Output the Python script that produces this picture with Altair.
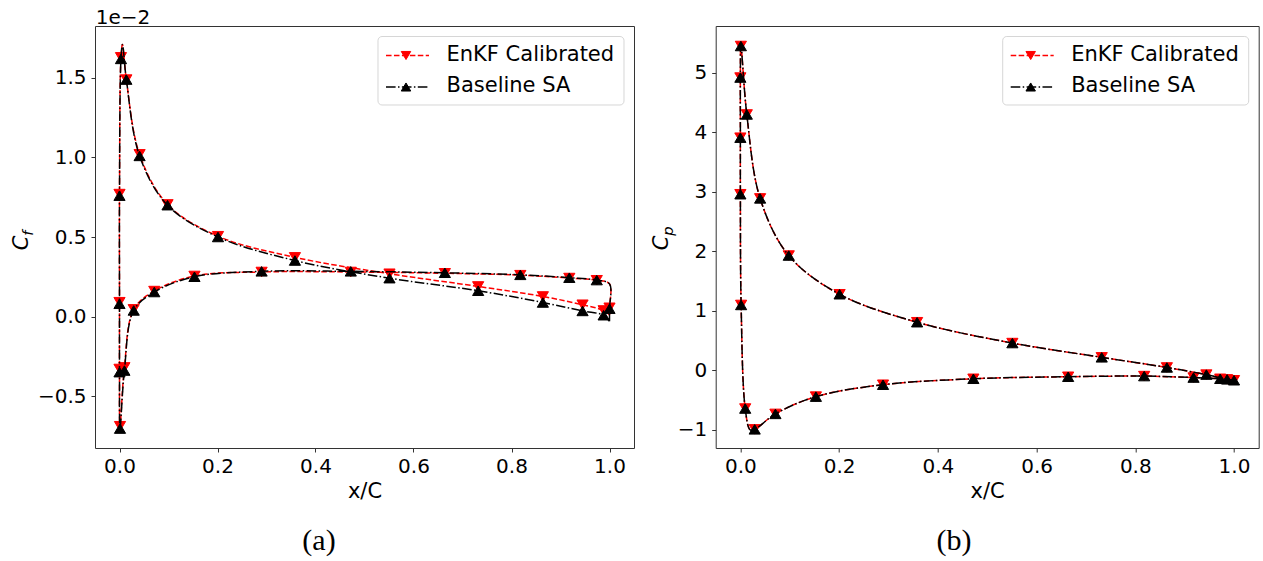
import altair as alt
import pandas as pd

# ---------------- data ----------------
SERIES = ["EnKF Calibrated", "Baseline SA"]
COLORS = ["#ff0000", "#000000"]
# triangle down / triangle up as unit paths (bbox centred, like matplotlib's v and ^)
SHAPES = ["M-1,-0.85H1L0,0.85Z", "M-1,0.85H1L0,-0.85Z"]
DASHES = [[5.55, 2.4], [9.6, 2.4, 1.5, 2.4]]

X_TICKS = [0.0, 0.2, 0.4, 0.6, 0.8, 1.0]
X_DOMAIN = [-0.05, 1.05]

# skin friction (axis units of 1e-2), ordered around the airfoil
CF_TICKS = [-0.5, 0.0, 0.5, 1.0, 1.5]
CF_DOMAIN = [-0.827, 1.827]
CF_X = [1.0, 0.988, 0.945, 0.864, 0.732, 0.551, 0.358, 0.201, 0.098, 0.041,
        0.014, 0.006, 0.003, 0.0, 0.0, 0.0, 0.001, 0.010, 0.029, 0.071,
        0.153, 0.290, 0.472, 0.664, 0.818, 0.918, 0.974, 1.0, 1.0, 1.0]
CF_MARK = [0, 1, 1, 1, 1, 1, 1, 1, 1, 1,
           1, 0, 1, 1, 1, 1, 1, 1, 1, 1,
           1, 1, 1, 1, 1, 1, 1, 0, 1, 0]
CF_ENKF = [0.01, 0.038, 0.074, 0.126, 0.189, 0.269, 0.372, 0.505, 0.705, 1.02,
           1.49, 1.71, 1.63, 0.77, 0.09, -0.33, -0.69, -0.32, 0.045, 0.16,
           0.255, 0.28, 0.28, 0.272, 0.26, 0.242, 0.228, 0.205, 0.055, 0.01]
CF_BASE = [-0.03, 0.008, 0.035, 0.088, 0.162, 0.241, 0.352, 0.50, 0.70, 1.01,
           1.49, 1.71, 1.62, 0.76, 0.08, -0.35, -0.705, -0.34, 0.038, 0.154,
           0.25, 0.284, 0.284, 0.275, 0.262, 0.244, 0.229, 0.205, 0.049, -0.03]

# pressure coefficient
CP_TICKS = [-1, 0, 1, 2, 3, 4, 5]
CP_DOMAIN = [-1.303, 5.786]
CP_X = [1.0, 0.986, 0.944, 0.864, 0.732, 0.551, 0.358, 0.201, 0.098, 0.040,
        0.013, 0.001, 0.0, 0.0, 0.0, 0.0015, 0.0098, 0.020, 0.029, 0.071,
        0.153, 0.289, 0.472, 0.664, 0.818, 0.918, 0.972, 1.0]
CP_MARK = [0, 1, 1, 1, 1, 1, 1, 1, 1, 1,
           1, 1, 1, 1, 1, 1, 1, 0, 1, 1,
           1, 1, 1, 1, 1, 1, 1, 1]
CP_ENKF = [-0.165, -0.15, -0.07, 0.05, 0.22, 0.46, 0.81, 1.28, 1.93, 2.89,
           4.30, 5.45, 4.92, 3.91, 2.96, 1.10, -0.64, -1.0, -0.99, -0.73,
           -0.44, -0.24, -0.14, -0.106, -0.095, -0.12, -0.14, -0.165]
CP_BASE = [-0.165, -0.15, -0.07, 0.05, 0.22, 0.46, 0.81, 1.28, 1.93, 2.89,
           4.30, 5.45, 4.92, 3.91, 2.96, 1.10, -0.64, -1.0, -0.99, -0.73,
           -0.44, -0.24, -0.14, -0.106, -0.095, -0.12, -0.14, -0.165]

CF_OFFSET_TEXT = "1e\u22122"
CAPTIONS = ["(a)", "(b)"]

# ---------------- layout ----------------
FONT = "DejaVu Sans"
H = 422
W_L = 539
W_R = 543
MARK_SIZE = 125
ONE = pd.DataFrame({"t": [""]})


def table(xs, marks, ys_list):
    rows = []
    for s, ys in zip(SERIES, ys_list):
        for i, (x, m, y) in enumerate(zip(xs, marks, ys)):
            rows.append({"i": i, "x": x, "y": y, "m": m, "s": s})
    return pd.DataFrame(rows)


def txt(text, x, y, size, align="left", baseline="alphabetic", angle=0,
        italic=False, font=FONT):
    kw = dict(text=text, font=font, fontSize=size, align=align,
              baseline=baseline, color="black")
    if angle:
        kw["angle"] = angle
    if italic:
        kw["fontStyle"] = "italic"
    return alt.Chart(ONE).mark_text(**kw).encode(x=alt.value(x), y=alt.value(y))


def panel(df, w, ydomain, yticks, yfmt, sub, cx, caption, capx, extra=None):
    xenc = alt.X("x:Q", scale=alt.Scale(domain=X_DOMAIN, nice=False, zero=False),
                 axis=alt.Axis(values=X_TICKS, format=".1f", title="x/C"))
    yenc = alt.Y("y:Q", scale=alt.Scale(domain=ydomain, nice=False, zero=False),
                 axis=alt.Axis(values=yticks, format=yfmt, title=None))
    layers = []
    for k, s in enumerate(SERIES):
        base = alt.Chart(df).transform_filter(alt.datum.s == s)
        layers.append(base.mark_line(color=COLORS[k], strokeWidth=1.5,
                                     strokeDash=DASHES[k],
                                     interpolate="catmull-rom").encode(
            x=xenc, y=yenc, order="i:Q"))
        layers.append(base.transform_filter(alt.datum.m == 1).mark_point(
            shape=SHAPES[k], filled=True, size=MARK_SIZE, color=COLORS[k],
            stroke=COLORS[k], strokeWidth=1, opacity=1).encode(x=xenc, y=yenc))
    # legend (drawn by hand to match the line+marker samples)
    bx0, bx1, by0, by1 = w - 10 - 246, w - 10, 10.5, 79
    layers.append(alt.Chart(ONE).mark_rect(
        fill="white", fillOpacity=0.8, stroke="#cccccc", strokeOpacity=0.8,
        strokeWidth=1, cornerRadius=4).encode(
        x=alt.value(bx0), x2=alt.value(bx1), y=alt.value(by0), y2=alt.value(by1)))
    for k, s in enumerate(SERIES):
        yk = by0 + 19 + 31.5 * k
        layers.append(alt.Chart(ONE).mark_rule(
            color=COLORS[k], strokeWidth=1.5, strokeDash=DASHES[k]).encode(
            x=alt.value(bx0 + 8), x2=alt.value(bx0 + 51),
            y=alt.value(yk), y2=alt.value(yk)))
        layers.append(alt.Chart(ONE).mark_point(
            shape=SHAPES[k], filled=True, size=90, color=COLORS[k],
            stroke=COLORS[k], strokeWidth=1, opacity=1).encode(
            x=alt.value(bx0 + 28), y=alt.value(yk)))
        layers.append(txt(s, bx0 + 68.5, yk - 1, 21, baseline="middle"))
    # y-axis title C with subscript
    layers.append(txt("C", cx, 217, 21, align="center", angle=270, italic=True))
    layers.append(txt(sub, cx + 5, 209.7, 14.7, align="left", angle=270, italic=True))
    # caption
    layers.append(txt(caption, capx, 523.7, 30, align="center",
                      font="Liberation Serif"))
    if extra:
        layers.extend(extra)
    return alt.layer(*layers).properties(width=w, height=H)


cf_df = table(CF_X, CF_MARK, [CF_ENKF, CF_BASE])
cp_df = table(CP_X, CP_MARK, [CP_ENKF, CP_BASE])

anchor = alt.Chart(ONE).mark_rule(opacity=0).encode(
    x=alt.value(-94), x2=alt.value(-94), y=alt.value(-25.5), y2=alt.value(-25.5))

left = panel(cf_df, W_L, CF_DOMAIN, CF_TICKS, ".1f", "f", -67,
             CAPTIONS[0], 224,
             extra=[txt(CF_OFFSET_TEXT, 0.7, -1.7, 20), anchor])
right = panel(cp_df, W_R, CP_DOMAIN, CP_TICKS, "d", "p", -48,
              CAPTIONS[1], 238.3)

chart = alt.hconcat(left, right, spacing=81.7, bounds="flush").properties(
    padding={"left": 0, "top": 0, "right": 0, "bottom": 0}
).configure_view(
    stroke="#333333", strokeWidth=1
).configure_axis(
    domain=False, grid=False, ticks=True, tickColor="#333333", tickSize=4,
    tickWidth=1, labelFont=FONT, labelFontSize=20, labelColor="black",
    labelPadding=4, labelFlush=False, labelOverlap=False,
    titleFont=FONT, titleFontSize=21, titleFontWeight="normal",
    titleColor="black", titlePadding=4
).configure_axisY(labelPadding=5)

chart.save("out.html", embed_options={"renderer": "svg", "actions": False})
